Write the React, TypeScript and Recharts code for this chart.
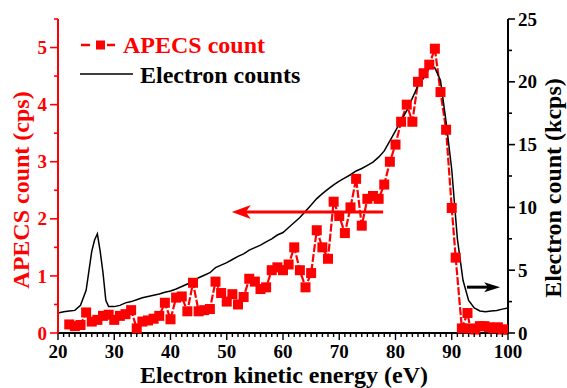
import React from 'react';
import { LineChart, Line, XAxis, YAxis, Legend, ReferenceLine, Label } from 'recharts';

const FONT = "'Liberation Serif', 'Times New Roman', serif";
const RED = '#ff0000';

// APECS count (cps), left axis
const apecsEnergy = [
  22, 23, 24, 25, 26, 27, 28, 29, 30, 31, 32, 33, 34, 35, 36, 37, 38, 39, 40, 41,
  42, 43, 44, 45, 46, 47, 48, 49, 50, 51, 52, 53, 54, 55, 56, 57, 58, 59, 60, 61,
  62, 63, 64, 65, 66, 67, 68, 69, 70, 71, 72, 73, 74, 75, 76, 77, 78, 79, 80, 81,
  82, 83, 84, 85, 86, 87, 88, 89, 90, 90.7, 91.8, 92.8, 93.3, 94.2, 95, 95.8, 96.6,
  97.4, 98.2, 99, 99.8,
];
const apecsCount = [
  0.15, 0.12, 0.14, 0.36, 0.2, 0.23, 0.3, 0.32, 0.23, 0.3, 0.33, 0.4, 0.08, 0.2, 0.22, 0.25, 0.3, 0.53, 0.24, 0.62,
  0.64, 0.38, 0.88, 0.38, 0.4, 0.42, 0.9, 0.7, 0.55, 0.68, 0.5, 0.63, 0.95, 0.9, 0.77, 0.8, 1.1, 1.15, 1.1, 1.2,
  1.5, 1.1, 0.8, 1.05, 1.8, 1.5, 1.3, 2.3, 2.05, 1.75, 2.2, 2.7, 1.88, 2.35, 2.4, 2.35, 2.6, 3.0, 3.3, 3.7,
  4.0, 3.7, 4.4, 4.55, 4.7, 4.98, 4.22, 3.56, 2.19, 1.32, 0.08, 0.35, 0.08, 0.06, 0.12, 0.12, 0.1,
  0.08, 0.1, 0.06, 0.06,
];

// Electron counts (kcps), right axis
const electronEnergy = [
  20, 21, 22, 23, 24, 25, 26, 26.5, 27, 27.5, 28, 28.5, 29, 30, 31, 32, 33, 34, 35, 36,
  37, 38, 39, 40, 41, 42, 43, 44, 45, 46, 47, 48, 49, 50, 51, 52, 53, 54, 55, 56,
  57, 58, 59, 60, 61, 62, 63, 64, 65, 66, 67, 68, 69, 70, 71, 72, 73, 74, 75, 76,
  77, 78, 79, 80, 81, 82, 83, 84, 85, 86, 86.5, 87, 88, 89, 90, 91, 92, 93, 94, 95,
  96, 97, 98, 99, 100,
];
const electronCount = [
  1.6, 1.7, 1.75, 1.8, 2.2, 3.4, 6.5, 7.4, 7.9, 6.5, 4.8, 2.6, 2.1, 2.1, 2.2, 2.4, 2.5, 2.65, 2.8, 2.9,
  3.0, 3.1, 3.25, 3.35, 3.5, 3.7, 3.9, 4.1, 4.4, 4.6, 4.8, 5.2, 5.4, 5.6, 5.85, 6.1, 6.3, 6.6, 6.8, 7.0,
  7.25, 7.5, 7.8, 8.0, 8.4, 8.8, 9.2, 9.7, 10.2, 10.7, 11.1, 11.45, 11.8, 12.1, 12.35, 12.6, 12.9, 13.1, 13.35, 13.6,
  14.0, 14.5, 15.3, 16.1, 16.9, 17.7, 18.7, 19.7, 20.3, 21.1, 21.3, 21.1, 20.1, 16.8, 13.0, 7.5, 4.2, 2.6, 2.0, 1.75,
  1.7, 1.75, 1.8, 1.9, 2.0,
];

// tick values
const xTicks: number[] = [];
for (let v = 20; v <= 100; v += 1) xTicks.push(v);
const leftTicks = [0, 0.5, 1, 1.5, 2, 2.5, 3, 3.5, 4, 4.5, 5, 5.5];
const rightTicks = [0, 2.5, 5, 7.5, 10, 12.5, 15, 17.5, 20, 22.5, 25];

// annotation arrows (data coordinates)
const redArrow = [{ x: 77.8, y: 2.12 }, { x: 50.9, y: 2.12 }];
const blackArrow = [{ x: 92.7, y: 3.65 }, { x: 98.6, y: 3.65 }];

const apecsData = apecsEnergy.map((e, i) => ({ e, v: apecsCount[i] }));
const electronData = electronEnergy.map((e, i) => ({ e, v: electronCount[i] }));

const LeftTick = (p: any) => {
  const v = p.payload.value;
  const major = Math.abs(v - Math.round(v)) < 1e-6;
  return (
    <g>
      <line x1={p.x - (major ? 8 : 4)} x2={p.x} y1={p.y} y2={p.y} stroke={RED} strokeWidth={1.6} />
      {major && (
        <text x={p.x - 11} y={p.y} dy="0.35em" textAnchor="end" fill={RED} fontFamily={FONT} fontWeight="bold" fontSize={19}>
          {v}
        </text>
      )}
    </g>
  );
};

const RightTick = (p: any) => {
  const v = p.payload.value;
  const major = Math.abs(v / 5 - Math.round(v / 5)) < 1e-6;
  return (
    <g>
      <line x1={p.x} x2={p.x + (major ? 7 : 4)} y1={p.y} y2={p.y} stroke="#000" strokeWidth={1.6} />
      {major && (
        <text x={p.x + 10} y={p.y} dy="0.35em" textAnchor="start" fill="#000" fontFamily={FONT} fontWeight="bold" fontSize={19}>
          {v}
        </text>
      )}
    </g>
  );
};

const BottomTick = (p: any) => {
  const v = p.payload.value;
  const major = v % 10 === 0;
  return (
    <g>
      <line x1={p.x} x2={p.x} y1={p.y} y2={p.y + (major ? 7 : 4)} stroke="#000" strokeWidth={1.4} />
      {major && (
        <text x={p.x} y={p.y + 25} textAnchor="middle" fill="#000" fontFamily={FONT} fontWeight="bold" fontSize={19}>
          {v}
        </text>
      )}
    </g>
  );
};

const SquareDot = (p: any) => {
  if (p.cx == null || p.cy == null) return <g key={p.index} />;
  return <rect key={p.index} x={p.cx - 5} y={p.cy - 5} width={10} height={10} fill={RED} />;
};

const arrowShape = (color: string, head: number, half: number, notch: number, width: number) => (p: any) => {
  const { x1, y1, x2, y2 } = p;
  const dir = x2 > x1 ? 1 : -1;
  const backX = x2 - dir * head;
  const notchX = x2 - dir * (head - notch);
  return (
    <g>
      <line x1={x1} y1={y1} x2={notchX} y2={y2} stroke={color} strokeWidth={width} />
      <polygon points={`${x2},${y2} ${backX},${y2 - half} ${notchX},${y2} ${backX},${y2 + half}`} fill={color} />
    </g>
  );
};

const renderLegend = () => (
  <svg width={260} height={64} style={{ display: 'block' }}>
    <line x1={6} x2={15} y1={17} y2={17} stroke={RED} strokeWidth={2.5} />
    <rect x={21} y={12.5} width={9} height={9} fill={RED} />
    <line x1={32} x2={40} y1={17} y2={17} stroke={RED} strokeWidth={2.5} />
    <text x={48} y={25} fill={RED} fontFamily={FONT} fontWeight="bold" fontSize={24}>APECS count</text>
    <line x1={5} x2={58} y1={46} y2={46} stroke="#000" strokeWidth={1.6} />
    <text x={65} y={55} fill="#000" fontFamily={FONT} fontWeight="bold" fontSize={24}>Electron counts</text>
  </svg>
);

export default function App() {
  return (
    <div style={{ position: 'absolute', left: 0, top: 0, width: 567, height: 388, background: '#fff' }}>
      <LineChart width={567} height={388} margin={{ top: 19, right: 0, bottom: 0, left: 0 }}>
        <XAxis
          type="number"
          dataKey="e"
          domain={[20, 100]}
          ticks={xTicks}
          interval={0}
          allowDataOverflow
          height={55}
          tickSize={0}
          tickMargin={0}
          tick={BottomTick}
          axisLine={{ stroke: '#000', strokeWidth: 2 }}
        >
          <Label
            content={(p: any) => (
              <text x={284} y={383} textAnchor="middle" fill="#000" fontFamily={FONT} fontWeight="bold" fontSize={24}>
                Electron kinetic energy (eV)
              </text>
            )}
          />
        </XAxis>
        <YAxis
          yAxisId="left"
          orientation="left"
          type="number"
          domain={[0, 5.5]}
          ticks={leftTicks}
          interval={0}
          width={58}
          tickSize={0}
          tickMargin={0}
          tick={LeftTick}
          axisLine={{ stroke: RED, strokeWidth: 2 }}
        >
          <Label
            content={(p: any) => (
              <text x={29} y={190} transform="rotate(-90 29 190)" textAnchor="middle" fill={RED} fontFamily={FONT} fontWeight="bold" fontSize={24}>
                APECS count (cps)
              </text>
            )}
          />
        </YAxis>
        <YAxis
          yAxisId="right"
          orientation="right"
          type="number"
          domain={[0, 25]}
          ticks={rightTicks}
          interval={0}
          width={59}
          tickSize={0}
          tickMargin={0}
          tick={RightTick}
          axisLine={{ stroke: '#000', strokeWidth: 2 }}
        >
          <Label
            content={(p: any) => (
              <text x={561} y={188} transform="rotate(-90 561 188)" textAnchor="middle" fill="#000" fontFamily={FONT} fontWeight="bold" fontSize={24}>
                Electron count (kcps)
              </text>
            )}
          />
        </YAxis>
        <Line
          yAxisId="left"
          data={apecsData}
          dataKey="v"
          type="linear"
          stroke={RED}
          strokeWidth={2.2}
          strokeDasharray="8 2"
          dot={SquareDot}
          activeDot={false}
          isAnimationActive={false}
          name="APECS count"
        />
        <Line
          yAxisId="right"
          data={electronData}
          dataKey="v"
          type="linear"
          stroke="#000"
          strokeWidth={1.5}
          dot={false}
          activeDot={false}
          isAnimationActive={false}
          name="Electron counts"
        />
        <ReferenceLine
          yAxisId="left"
          segment={redArrow}
          stroke={RED}
          shape={arrowShape(RED, 19, 7, 5, 3)}
        />
        <ReferenceLine
          yAxisId="right"
          segment={blackArrow}
          stroke="#000"
          shape={arrowShape('#000', 16, 5, 4, 3)}
        />
        <Legend
          layout="horizontal"
          verticalAlign="middle"
          align="center"
          content={renderLegend}
          wrapperStyle={{ position: 'absolute', left: 75, top: 28, width: 260, height: 64 }}
        />
      </LineChart>
    </div>
  );
}
